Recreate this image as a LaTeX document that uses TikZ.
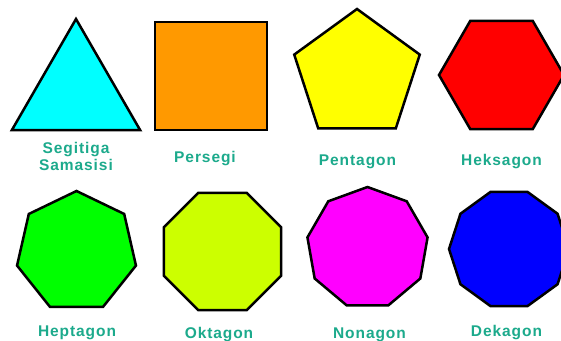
\documentclass[tikz,border=0pt]{standalone}
\usepackage{fontspec}
\setmainfont{Liberation Sans}
\newfontfamily\labelfont{Liberation Sans}[LetterSpace=6]
\usetikzlibrary{shapes.geometric}

\definecolor{labelgreen}{RGB}{28,170,140}
\definecolor{triangleblue}{RGB}{0,255,255}
\definecolor{squareorange}{RGB}{255,153,0}
\definecolor{pentayellow}{RGB}{255,255,0}
\definecolor{hexred}{RGB}{255,0,0}
\definecolor{heptagreen}{RGB}{0,255,0}
\definecolor{octalime}{RGB}{204,255,0}
\definecolor{nonapink}{RGB}{255,0,255}
\definecolor{decablue}{RGB}{0,0,255}

\tikzset{
  figure/.style={draw=black, line width=2.5pt, line join=miter, inner sep=0pt, outer sep=0pt},
  poly/.style={figure, regular polygon},
  name label/.style={text=labelgreen, font=\labelfont\bfseries\fontsize{15.5}{17}\selectfont,
    anchor=base, inner sep=0pt, align=center}
}

\begin{document}
\begin{tikzpicture}[x=1pt,y=-1pt]
\useasboundingbox[fill=white] (0,0) rectangle (561,340);
\clip (0,0) rectangle (561,340);

% top row
\node[poly, regular polygon sides=3, minimum size=148pt, fill=triangleblue] (triangle) at (76,93) {};
\node[figure, rectangle, minimum width=112pt, minimum height=108pt, fill=squareorange] (square) at (211,76) {};
\node[poly, regular polygon sides=5, minimum size=132pt, fill=pentayellow] (pentagon) at (357,75) {};
\node[poly, regular polygon sides=6, minimum size=125pt, fill=hexred] (hexagon) at (501.5,75) {};

% bottom row
\node[poly, regular polygon sides=7, minimum size=122pt, fill=heptagreen] (heptagon) at (76.5,252) {};
\node[poly, regular polygon sides=8, minimum size=127pt, fill=octalime] (octagon) at (222.5,251.5) {};
\node[poly, regular polygon sides=9, minimum size=122pt, fill=nonapink] (nonagon) at (367.5,248) {};
\node[poly, regular polygon sides=10, minimum size=120pt, fill=decablue] (decagon) at (509,249) {};

% names
\node[name label] (triangle name) at (76,170) {Segitiga\\Samasisi};
\node[name label] (square name) at (205,162) {Persegi};
\node[name label] (pentagon name) at (357.5,165) {Pentagon};
\node[name label] (hexagon name) at (501.5,165) {Heksagon};
\node[name label] (heptagon name) at (77,336) {Heptagon};
\node[name label] (octagon name) at (219,338) {Oktagon};
\node[name label] (nonagon name) at (369.5,338) {Nonagon};
\node[name label] (decagon name) at (506.5,336) {Dekagon};
\end{tikzpicture}
\end{document}
